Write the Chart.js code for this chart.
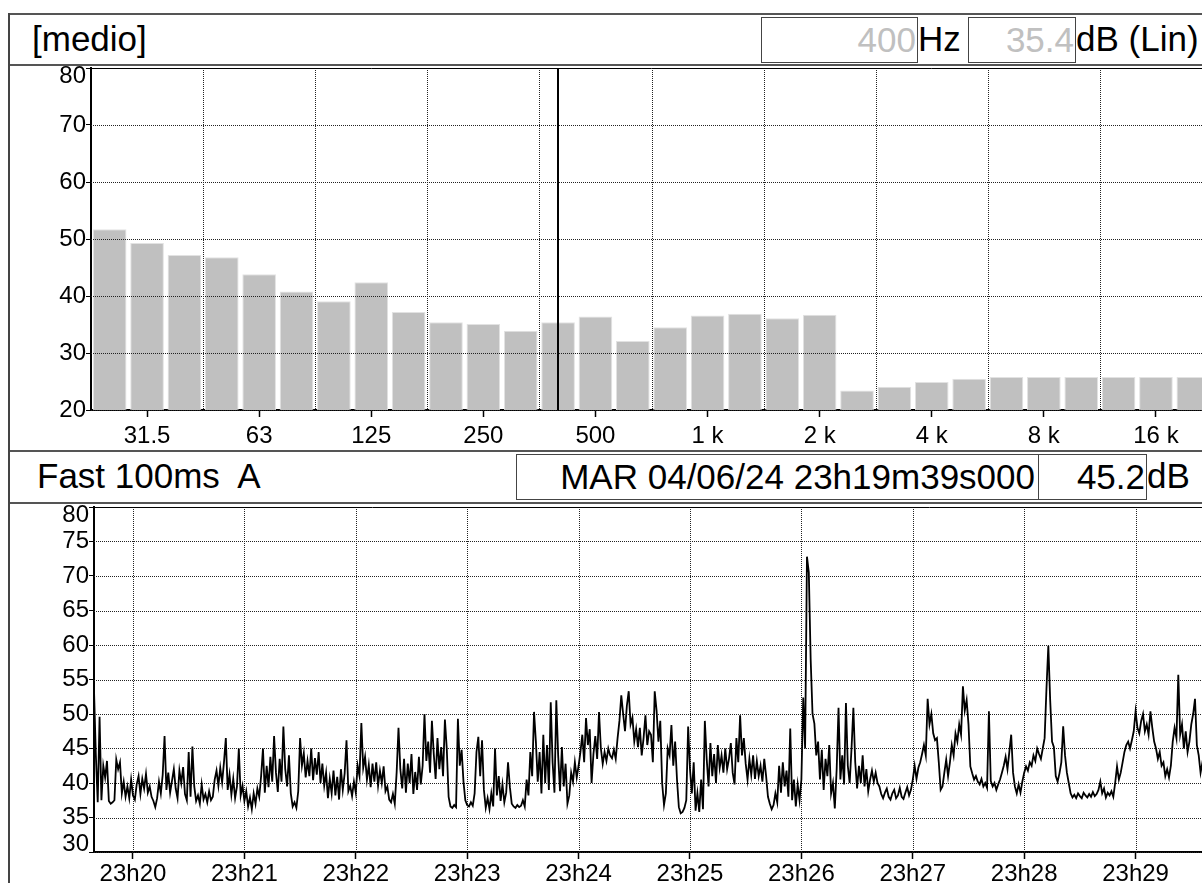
<!DOCTYPE html>
<html><head><meta charset="utf-8">
<script src="https://cdn.jsdelivr.net/npm/chart.js@4.4.1/dist/chart.umd.min.js"></script>
<style>
html,body{margin:0;padding:0;background:#fff;overflow:hidden;width:1202px;height:883px;}
body{position:relative;font-family:"Liberation Sans",Arial,sans-serif;}
.hbar{position:absolute;left:8px;width:1240px;border:2px solid #555;box-sizing:border-box;}
.vline{position:absolute;left:8px;top:13px;width:2px;height:880px;background:#444;}
.txt{position:absolute;font-size:35px;line-height:46px;white-space:pre;color:#000;}
.box{position:absolute;border:1px solid #444;box-sizing:border-box;font-size:35px;line-height:44px;text-align:right;white-space:pre;padding-right:1px;}
.cv{position:absolute;left:0;}
</style></head>
<body>
<div class="hbar" style="top:13px;height:53px;"></div>
<div class="txt" style="left:32px;top:16px;">[medio]</div>
<div class="box" style="left:761px;top:17px;width:157px;height:46px;color:#c0c0c0;" id="freqBox"></div>
<div class="txt" style="left:918px;top:16px;">Hz</div>
<div class="box" style="left:968px;top:17px;width:108px;height:46px;color:#c0c0c0;" id="levelBox"></div>
<div class="txt" style="left:1076px;top:16px;">dB (Lin)</div>

<div class="hbar" style="top:450px;height:54px;"></div>
<div class="txt" style="left:37px;top:453px;">Fast 100ms  A</div>
<div class="box" style="left:516px;top:454px;width:523px;height:46px;padding-right:3px;" id="dateBox"></div>
<div class="box" style="left:1038px;top:454px;width:109px;height:46px;" id="laBox"></div>
<div class="txt" style="left:1147px;top:453px;">dB</div>
<div class="vline"></div>

<canvas id="c1" class="cv" width="1222" height="384" style="top:66px;"></canvas>
<canvas id="c2" class="cv" width="1222" height="400" style="top:504px;"></canvas>

<script>
// ---------- DATA ----------
const bandLabels = ['25','31.5','40','50','63','80','100','125','160','200','250','315','400','500','630','800','1 k','1.25 k','1.6 k','2 k','2.5 k','3.15 k','4 k','5 k','6.3 k','8 k','10 k','12.5 k','16 k','20 k'];
const bandLevels = [51.7,49.3,47.2,46.8,43.8,40.8,39.1,42.4,37.2,35.4,35.1,33.9,35.4,36.4,32.1,34.5,36.6,36.9,36.1,36.7,23.4,24.1,24.9,25.5,25.8,25.8,25.8,25.8,25.8,25.8];
const bandTickLabels = ['31.5','63','125','250','500','1 k','2 k','4 k','8 k','16 k'];
const cursorBand = '400';
const cursorLevel = '35.4';

const startStamp = 'MAR 04/06/24 23h19m39s000';
const currentLevel = '45.2';
const firstTickOffsetSec = 21; // 23h20m00s minus 23h19m39s
const timeTickLabels = ['23h20','23h21','23h22','23h23','23h24','23h25','23h26','23h27','23h28','23h29'];
const sampleStepSec = 1;
const levelsDb = [
53.5,44.0,37.2,49.6,37.5,42.5,40.8,43.2,37.4,37.0,
37.2,37.5,43.4,42.0,43.0,38.5,40.2,38.0,39.5,37.8,
40.5,38.2,37.6,39.8,41.0,38.4,40.6,39.2,41.3,38.6,
39.5,38.0,37.4,36.5,37.8,40.2,38.5,41.2,46.8,39.0,
41.5,38.6,40.3,42.0,39.2,37.8,41.8,40.0,42.3,38.4,
37.5,44.5,38.0,45.3,39.5,37.4,38.2,37.0,39.8,37.6,
38.4,37.2,38.8,37.5,38.0,40.5,41.8,39.6,42.2,40.1,
43.0,46.5,39.0,41.2,38.3,40.6,37.8,39.5,45.0,38.2,
39.6,37.4,38.8,36.6,37.9,36.2,38.5,37.0,39.2,38.0,
41.0,45.0,38.6,42.5,39.4,43.8,40.2,46.8,41.5,38.7,
43.5,40.2,48.2,42.0,39.5,44.0,38.5,36.6,37.2,36.4,
38.8,46.5,42.5,44.3,40.8,43.2,41.0,45.0,40.4,43.6,
41.2,44.5,40.0,42.8,39.6,41.5,37.8,40.6,38.5,41.8,
38.2,40.9,37.6,42.0,39.0,41.4,46.2,38.8,39.6,38.1,
40.2,38.6,42.5,41.0,48.7,42.2,43.8,40.5,42.6,39.4,
42.8,40.2,43.0,39.6,41.8,40.0,42.4,38.8,39.5,37.6,
37.2,38.4,37.0,41.5,48.0,42.0,39.2,43.5,38.6,42.8,
40.0,44.2,38.4,41.6,39.0,43.8,39.8,42.5,50.0,43.2,
46.0,41.5,49.0,44.2,40.6,46.5,42.0,45.2,41.0,49.2,
45.0,38.0,36.6,36.4,36.8,36.5,49.3,42.5,44.8,40.2,
37.5,36.8,36.6,37.2,36.7,38.5,44.5,46.7,41.0,46.2,
39.0,36.4,37.8,36.2,38.5,36.6,45.0,38.2,41.0,37.4,
39.8,37.2,38.6,43.0,39.4,37.0,36.6,36.4,36.8,36.5,
36.7,37.5,36.6,40.5,38.2,44.5,41.0,50.3,46.0,40.2,
44.5,38.5,47.0,40.0,45.5,39.0,51.7,43.0,38.6,52.0,
44.0,38.8,45.2,39.5,42.8,37.0,38.2,41.5,40.2,43.0,
40.8,42.5,44.5,47.0,43.0,49.4,45.5,47.8,40.0,44.2,
46.8,43.5,50.3,45.0,42.8,44.5,43.2,45.0,44.0,43.6,
44.8,43.5,46.5,49.0,52.7,50.0,47.5,51.2,53.3,48.5,
49.5,46.0,47.8,45.2,48.0,44.0,46.5,49.8,45.5,47.5,
47.0,43.0,53.3,50.5,46.0,49.0,40.0,36.8,38.5,45.0,
44.0,48.4,42.5,46.0,40.5,36.5,35.6,35.8,36.4,37.5,
48.2,42.0,38.5,43.0,36.0,38.5,35.8,40.5,36.2,49.0,
43.5,39.5,45.8,41.0,44.2,40.0,45.5,42.2,44.0,41.5,
45.0,42.0,43.5,45.8,41.5,39.8,46.5,43.0,49.8,44.0,
46.5,42.8,40.5,43.5,41.2,44.0,40.6,43.2,41.0,42.5,
40.2,43.5,41.0,38.0,37.0,36.2,36.8,38.5,37.2,42.5,
38.6,43.0,39.5,41.8,38.0,47.9,37.5,40.5,36.6,39.8,
37.5,40.5,52.4,45.0,72.8,70.5,57.9,50.0,48.6,44.0,
46.0,40.5,44.8,39.0,43.5,41.0,45.5,38.5,40.0,36.3,
42.0,50.9,40.5,44.0,39.8,51.6,42.5,40.0,45.0,50.9,
43.0,39.2,42.5,40.0,44.0,39.5,42.0,38.8,40.5,41.8,
40.2,41.5,40.0,39.5,38.4,37.8,38.6,39.2,38.0,37.6,
38.5,39.0,37.8,38.2,39.3,38.0,37.7,38.6,39.4,38.2,
39.0,40.5,42.5,40.6,42.2,43.0,44.2,45.5,44.0,52.2,
48.5,50.0,47.2,46.2,46.5,43.0,39.0,39.5,41.5,43.4,
41.0,43.0,45.5,44.0,47.2,46.0,48.5,47.0,54.0,50.5,
52.0,48.5,42.4,41.4,40.5,41.0,40.2,39.8,40.6,39.5,
40.0,39.3,50.4,40.3,39.5,40.0,39.0,39.8,40.5,41.5,
42.5,43.8,42.0,44.5,47.0,41.5,39.5,38.5,39.8,38.6,
40.2,41.5,42.4,41.8,43.0,42.5,44.0,43.2,45.0,44.2,
43.5,45.0,46.5,53.7,59.9,52.0,46.0,45.2,41.0,40.2,
41.4,43.0,48.2,44.0,41.5,40.0,38.5,37.9,38.3,37.8,
38.5,38.1,37.8,38.6,38.2,37.9,38.4,38.0,38.7,38.1,
38.4,39.0,40.2,38.5,39.2,37.9,38.6,38.2,38.8,38.0,
40.0,42.4,40.5,41.5,43.0,44.5,45.5,46.0,45.0,46.2,
47.5,50.4,48.0,47.2,49.0,50.0,47.5,48.5,47.0,50.4,
48.0,46.0,45.0,43.5,44.5,42.5,43.0,41.0,42.0,40.8,
42.5,46.0,48.0,46.5,55.7,47.0,48.5,45.0,47.5,44.5,
46.0,48.5,50.0,52.2,45.5,44.0,41.5,43.0,44.5,43.0,
42.5
];

// ---------- header texts ----------
document.getElementById('freqBox').textContent = cursorBand;
document.getElementById('levelBox').textContent = cursorLevel;
document.getElementById('dateBox').textContent = startStamp;
document.getElementById('laBox').textContent = currentLevel;

const FONT = '"Liberation Sans", Arial, sans-serif';
const TICK_SIZE = 24;
Chart.defaults.font.family = FONT;
Chart.defaults.color = '#000';

// dotted grid + custom y labels + cursor
const framePlugin = {
  id: 'frame',
  beforeDatasetsDraw(chart, args, o) { if (!o.over) drawGrid(chart, o); },
  afterDatasetsDraw(chart, args, o) { if (o.over) drawGrid(chart, o); },
  afterDraw(chart, args, o) {
    const ctx = chart.ctx, a = chart.chartArea, ys = chart.scales.y;
    ctx.save();
    ctx.font = TICK_SIZE + 'px ' + FONT;
    ctx.fillStyle = '#000';
    ctx.textAlign = 'right';
    ctx.textBaseline = 'middle';
    ys.ticks.forEach(t => {
      let py = ys.getPixelForValue(t.value);
      if (o.clampTop) py = Math.max(py, a.top + 8);
      if (o.clampBottom) py = Math.min(py, a.bottom - 8);
      ctx.fillText(String(t.value), a.left - 5, py);
    });
    if (o.cursor != null) {
      const xs = chart.scales.x;
      const px = Math.round(xs.getPixelForValue(o.cursor));
      ctx.strokeStyle = '#000'; ctx.lineWidth = 2;
      ctx.beginPath(); ctx.moveTo(px, a.top); ctx.lineTo(px, a.bottom); ctx.stroke();
    }
    ctx.restore();
  }
};
function drawGrid(chart, o) {
  const ctx = chart.ctx, a = chart.chartArea, xs = chart.scales.x, ys = chart.scales.y;
  ctx.save();
  ctx.strokeStyle = '#222';
  ctx.lineWidth = 1;
  ctx.setLineDash([1, 1]);
  ctx.beginPath();
  ys.ticks.forEach(t => {
    const py = Math.round(ys.getPixelForValue(t.value)) + 0.5;
    if (py < a.top + 1) return;
    ctx.moveTo(a.left, py); ctx.lineTo(a.right, py);
  });
  o.xLines(xs).forEach(x => {
    const px = Math.round(x) + 0.5;
    ctx.moveTo(px, a.top); ctx.lineTo(px, a.bottom);
  });
  ctx.stroke();
  ctx.setLineDash([]);
  ctx.strokeStyle = '#000';
  ctx.beginPath(); ctx.moveTo(a.left, a.top + 0.5); ctx.lineTo(a.right, a.top + 0.5); ctx.stroke();
  ctx.restore();
}

// ---------- chart 1 : spectrum ----------
new Chart(document.getElementById('c1'), {
  type: 'bar',
  data: { labels: bandLabels, datasets: [{ data: bandLevels, backgroundColor: '#c0c0c0', borderColor: '#e2e2e2', borderWidth: 1, barPercentage: 0.9, categoryPercentage: 1.0 }] },
  options: {
    responsive: false, animation: false, events: [],
    layout: { padding: { left: 0, top: 2, right: 10, bottom: 0 } },
    plugins: { legend: { display: false }, tooltip: { enabled: false },
      frame: { over: true, clampTop: true, clampBottom: false, cursor: bandLabels.indexOf(cursorBand),
        xLines: xs => { const r = []; for (let i = 3; i < bandLabels.length; i += 3) r.push((xs.getPixelForValue(i - 1) + xs.getPixelForValue(i)) / 2); return r; } } },
    scales: {
      x: {
        offset: true,
        grid: { display: true, offset: false, drawOnChartArea: false, drawTicks: true, tickLength: 7, tickWidth: 1.5,
          color: c => bandTickLabels.includes(bandLabels[c.index]) ? '#000' : 'rgba(0,0,0,0)' },
        border: { display: true, color: '#000', width: 2 },
        ticks: { autoSkip: false, maxRotation: 0, minRotation: 0, padding: 5, font: { size: TICK_SIZE }, color: '#000',
          callback: (v, i) => bandTickLabels.includes(bandLabels[i]) ? bandLabels[i] : '' },
        afterFit: s => { s.height = 40; }
      },
      y: {
        min: 20, max: 80,
        ticks: { stepSize: 10, display: false },
        grid: { display: true, drawOnChartArea: false, drawTicks: true, tickLength: 5, color: '#000' },
        border: { display: true, color: '#000', width: 2 },
        afterFit: s => { s.width = 91; }
      }
    }
  },
  plugins: [framePlugin]
});

// ---------- chart 2 : time history ----------
const linePoints = levelsDb.map((v, i) => ({ x: i * sampleStepSec, y: v }));
const timeTickValues = timeTickLabels.map((l, i) => firstTickOffsetSec + 60 * i);
new Chart(document.getElementById('c2'), {
  type: 'line',
  data: { datasets: [{ data: linePoints, borderColor: '#000', borderWidth: 1.8, pointRadius: 0, tension: 0, fill: false }] },
  options: {
    responsive: false, animation: false, events: [], parsing: false,
    layout: { padding: { left: 0, top: 3, right: 14, bottom: 0 } },
    plugins: { legend: { display: false }, tooltip: { enabled: false },
      frame: { over: false, clampTop: true, clampBottom: true, cursor: null,
        xLines: xs => timeTickValues.map(v => xs.getPixelForValue(v)) } },
    scales: {
      x: {
        type: 'linear', min: 0, max: 600,
        afterBuildTicks: s => { s.ticks = timeTickValues.map(v => ({ value: v })); },
        grid: { display: true, drawOnChartArea: false, drawTicks: true, tickLength: 7, tickWidth: 1.5, color: '#000' },
        border: { display: true, color: '#000', width: 2 },
        ticks: { autoSkip: false, maxRotation: 0, minRotation: 0, padding: 1, font: { size: TICK_SIZE }, color: '#000',
          callback: (v, i) => timeTickLabels[i] },
        afterFit: s => { s.height = 52; }
      },
      y: {
        min: 30, max: 80,
        ticks: { stepSize: 5, display: false },
        grid: { display: true, drawOnChartArea: false, drawTicks: true, tickLength: 5, color: '#000' },
        border: { display: true, color: '#000', width: 2 },
        afterFit: s => { s.width = 94; }
      }
    }
  },
  plugins: [framePlugin]
});
</script>
</body></html>
